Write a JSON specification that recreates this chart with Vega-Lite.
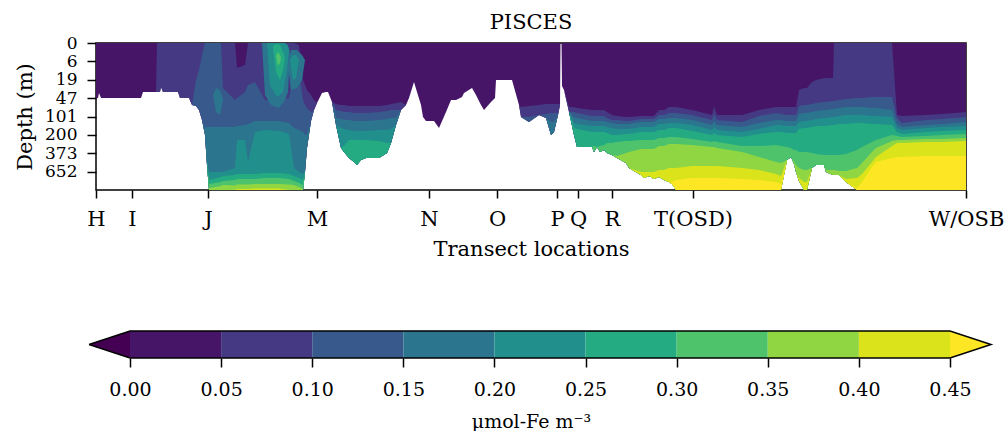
{
"$schema": "https://vega.github.io/schema/vega-lite/v6.json",
"padding": {"left": 13, "top": 11, "right": 0, "bottom": 0},
"spacing": 68,
"config": {
"font": "DejaVu Serif",
"view": {"stroke": null},
"axis": {"labelFont": "DejaVu Serif", "titleFont": "DejaVu Serif", "labelFontSize": 17, "titleFontSize": 17, "titleFontWeight": "normal", "labelColor": "black", "titleColor": "black", "tickColor": "black", "tickWidth": 1.5, "grid": false, "domain": false, "labelFlush": false, "labelOverlap": false, "labelBound": false}
},
"vconcat": [
{
"width": 870, "height": 147,
"title": {"text": "PISCES", "fontSize": 21, "font": "DejaVu Serif", "fontWeight": "normal", "color": "black", "offset": 1, "anchor": "middle"},
"view": {"stroke": "black", "strokeWidth": 1.5},
"encoding": {
"x": {"field": "x", "type": "quantitative", "scale": {"domain": [0, 870], "nice": false, "zero": false},
 "axis": {"values": [0, 36, 112, 221, 333, 401, 461, 482, 516, 597, 870], "labelExpr": "['H','I','J','M','N','O','P','Q','R','T(OSD)','W/OSB'][indexof([0,36,112,221,333,401,461,482,516,597,870], datum.value)]", "title": "Transect locations", "tickSize": 8, "labelPadding": 10, "titlePadding": 9, "labelFontSize": 21, "titleFontSize": 21}},
"y": {"field": "top", "type": "quantitative", "stack": null, "scale": {"domain": [0, 8], "reverse": true, "nice": false, "zero": false},
 "axis": {"values": [0, 1, 2, 3, 4, 5, 6, 7], "labelExpr": "['0','6','19','47','101','200','373','652'][datum.value]", "title": "Depth (m)", "tickSize": 9, "labelPadding": 10, "titlePadding": 9, "labelFontSize": 17, "titleFontSize": 21}},
"y2": {"field": "bot"},
"color": {"field": "band", "type": "nominal", "scale": {"domain": ["c00","c01","c02","c03","c04","c05","c06","c07","c08","c09","c10"], "range": ["#440154","#471567","#443982","#38598c","#2b758e","#21908d","#25ab82","#4ec36b","#90d643","#dbe31a","#fde725"]}, "legend": null}
},
"layer": [
{
"data": {"values": [
{"x":0,"bot":2.99,"c01":0,"c02":2.99,"c03":2.99,"c04":2.99,"c05":2.99,"c06":2.99,"c07":2.99,"c08":2.99,"c09":2.99,"c10":2.99},
{"x":2,"bot":2.99,"c01":0,"c02":2.99,"c03":2.99,"c04":2.99,"c05":2.99,"c06":2.99,"c07":2.99,"c08":2.99,"c09":2.99,"c10":2.99},
{"x":3,"bot":2.72,"c01":0,"c02":2.72,"c03":2.72,"c04":2.72,"c05":2.72,"c06":2.72,"c07":2.72,"c08":2.72,"c09":2.72,"c10":2.72},
{"x":5,"bot":2.99,"c01":0,"c02":2.99,"c03":2.99,"c04":2.99,"c05":2.99,"c06":2.99,"c07":2.99,"c08":2.99,"c09":2.99,"c10":2.99},
{"x":45,"bot":2.99,"c01":0,"c02":2.99,"c03":2.99,"c04":2.99,"c05":2.99,"c06":2.99,"c07":2.99,"c08":2.99,"c09":2.99,"c10":2.99},
{"x":47,"bot":2.67,"c01":0,"c02":2.67,"c03":2.67,"c04":2.67,"c05":2.67,"c06":2.67,"c07":2.67,"c08":2.67,"c09":2.67,"c10":2.67},
{"x":60,"bot":2.67,"c01":0,"c02":2.67,"c03":2.67,"c04":2.67,"c05":2.67,"c06":2.67,"c07":2.67,"c08":2.67,"c09":2.67,"c10":2.67},
{"x":61,"bot":2.67,"c01":0,"c02":0,"c03":2.67,"c04":2.67,"c05":2.67,"c06":2.67,"c07":2.67,"c08":2.67,"c09":2.67,"c10":2.67},
{"x":64,"bot":2.67,"c01":0,"c02":0,"c03":2.67,"c04":2.67,"c05":2.67,"c06":2.67,"c07":2.67,"c08":2.67,"c09":2.67,"c10":2.67},
{"x":65,"bot":2.39,"c01":0,"c02":0,"c03":2.39,"c04":2.39,"c05":2.39,"c06":2.39,"c07":2.39,"c08":2.39,"c09":2.39,"c10":2.39},
{"x":67,"bot":2.67,"c01":0,"c02":0,"c03":2.67,"c04":2.67,"c05":2.67,"c06":2.67,"c07":2.67,"c08":2.67,"c09":2.67,"c10":2.67},
{"x":82,"bot":2.67,"c01":0,"c02":0,"c03":2.67,"c04":2.67,"c05":2.67,"c06":2.67,"c07":2.67,"c08":2.67,"c09":2.67,"c10":2.67},
{"x":84,"bot":2.99,"c01":0,"c02":0,"c03":2.99,"c04":2.99,"c05":2.99,"c06":2.99,"c07":2.99,"c08":2.99,"c09":2.99,"c10":2.99},
{"x":93,"bot":2.99,"c01":0,"c02":0,"c03":2.99,"c04":2.99,"c05":2.99,"c06":2.99,"c07":2.99,"c08":2.99,"c09":2.99,"c10":2.99},
{"x":96,"bot":3.37,"c01":0,"c02":0,"c03":3.37,"c04":3.37,"c05":3.37,"c06":3.37,"c07":3.37,"c08":3.37,"c09":3.37,"c10":3.37},
{"x":100,"bot":3.43,"c01":0,"c02":0,"c03":2.01,"c04":3.43,"c05":3.43,"c06":3.43,"c07":3.43,"c08":3.43,"c09":3.43,"c10":3.43},
{"x":103,"bot":3.65,"c01":0,"c02":0,"c03":1.47,"c04":3.65,"c05":3.65,"c06":3.65,"c07":3.65,"c08":3.65,"c09":3.65,"c10":3.65},
{"x":106,"bot":4.19,"c01":0,"c02":0,"c03":0.65,"c04":4.19,"c05":4.19,"c06":4.19,"c07":4.19,"c08":4.19,"c09":4.19,"c10":4.19},
{"x":109,"bot":5.01,"c01":0,"c02":0,"c03":0,"c04":4.63,"c05":5.01,"c06":5.01,"c07":5.01,"c08":5.01,"c09":5.01,"c10":5.01},
{"x":111,"bot":6.64,"c01":0,"c02":0,"c03":0,"c04":4.57,"c05":6.37,"c06":6.64,"c07":6.64,"c08":6.64,"c09":6.64,"c10":6.64},
{"x":113,"bot":8,"c01":0,"c02":0,"c03":0,"c04":4.57,"c05":7.02,"c06":7.46,"c07":7.67,"c08":7.89,"c09":8,"c10":8},
{"x":125,"bot":8,"c01":0,"c02":0,"c03":0,"c04":4.57,"c05":7.02,"c06":7.29,"c07":7.56,"c08":7.78,"c09":8,"c10":8},
{"x":127,"bot":8,"c01":0,"c02":0,"c03":2.45,"c04":4.57,"c05":7.02,"c06":7.24,"c07":7.51,"c08":7.73,"c09":8,"c10":8},
{"x":139,"bot":8,"c01":0,"c02":0,"c03":3.10,"c04":4.57,"c05":6.80,"c06":7.18,"c07":7.46,"c08":7.75,"c09":8,"c10":8},
{"x":141,"bot":8,"c01":0,"c02":1.36,"c03":2.99,"c04":4.52,"c05":5.28,"c06":7.13,"c07":7.40,"c08":7.70,"c09":7.95,"c10":8},
{"x":149,"bot":8,"c01":0,"c02":1.20,"c03":2.67,"c04":4.46,"c05":5.28,"c06":7.13,"c07":7.40,"c08":7.70,"c09":7.95,"c10":8},
{"x":152,"bot":8,"c01":0,"c02":0,"c03":2.29,"c04":4.41,"c05":6.48,"c06":7.13,"c07":7.40,"c08":7.70,"c09":7.95,"c10":8},
{"x":159,"bot":8,"c01":0,"c02":0,"c03":2.12,"c04":4.24,"c05":4.84,"c06":7.13,"c07":7.40,"c08":7.67,"c09":7.92,"c10":8},
{"x":169,"bot":8,"c01":0,"c02":0,"c03":3.10,"c04":4.24,"c05":4.73,"c06":7.07,"c07":7.35,"c08":7.67,"c09":7.92,"c10":8},
{"x":183,"bot":8,"c01":0,"c02":0,"c03":3.10,"c04":4.24,"c05":4.79,"c06":7.07,"c07":7.35,"c08":7.67,"c09":7.92,"c10":8},
{"x":193,"bot":8,"c01":0,"c02":0,"c03":2.99,"c04":4.35,"c05":4.95,"c06":7.13,"c07":7.40,"c08":7.70,"c09":8,"c10":8},
{"x":198,"bot":8,"c01":0,"c02":0,"c03":1.74,"c04":4.63,"c05":6.80,"c06":7.24,"c07":7.51,"c08":7.73,"c09":8,"c10":8},
{"x":203,"bot":8,"c01":0,"c02":0.11,"c03":1.47,"c04":4.73,"c05":7.02,"c06":7.35,"c07":7.62,"c08":7.84,"c09":8,"c10":8},
{"x":207,"bot":8,"c01":0,"c02":2.01,"c03":3.10,"c04":4.84,"c05":7.13,"c06":7.46,"c07":7.73,"c08":7.95,"c09":8,"c10":8},
{"x":209,"bot":7.02,"c01":0,"c02":2.29,"c03":3.37,"c04":5.01,"c05":7.02,"c06":7.02,"c07":7.02,"c08":7.02,"c09":7.02,"c10":7.02},
{"x":211,"bot":5.71,"c01":0,"c02":2.56,"c03":3.54,"c04":5.01,"c05":5.71,"c06":5.71,"c07":5.71,"c08":5.71,"c09":5.71,"c10":5.71},
{"x":215,"bot":4.24,"c01":0,"c02":2.83,"c03":3.76,"c04":4.24,"c05":4.24,"c06":4.24,"c07":4.24,"c08":4.24,"c09":4.24,"c10":4.24},
{"x":218,"bot":3.65,"c01":0,"c02":3.10,"c03":3.65,"c04":3.65,"c05":3.65,"c06":3.65,"c07":3.65,"c08":3.65,"c09":3.65,"c10":3.65},
{"x":221,"bot":3.27,"c01":0,"c02":3.27,"c03":3.27,"c04":3.27,"c05":3.27,"c06":3.27,"c07":3.27,"c08":3.27,"c09":3.27,"c10":3.27},
{"x":226,"bot":2.72,"c01":0,"c02":2.72,"c03":2.72,"c04":2.72,"c05":2.72,"c06":2.72,"c07":2.72,"c08":2.72,"c09":2.72,"c10":2.72},
{"x":230,"bot":2.67,"c01":0,"c02":2.67,"c03":2.67,"c04":2.67,"c05":2.67,"c06":2.67,"c07":2.67,"c08":2.67,"c09":2.67,"c10":2.67},
{"x":232,"bot":2.67,"c01":0,"c02":2.67,"c03":2.67,"c04":2.67,"c05":2.67,"c06":2.67,"c07":2.67,"c08":2.67,"c09":2.67,"c10":2.67},
{"x":236,"bot":3.21,"c01":0,"c02":3.21,"c03":3.21,"c04":3.21,"c05":3.21,"c06":3.21,"c07":3.21,"c08":3.21,"c09":3.21,"c10":3.21},
{"x":240,"bot":4.46,"c01":0,"c02":3.32,"c03":3.65,"c04":4.08,"c05":4.46,"c06":4.46,"c07":4.46,"c08":4.46,"c09":4.46,"c10":4.46},
{"x":245,"bot":5.71,"c01":0,"c02":3.37,"c03":3.70,"c04":4.14,"c05":4.63,"c06":5.71,"c07":5.71,"c08":5.71,"c09":5.71,"c10":5.71},
{"x":248,"bot":5.93,"c01":0,"c02":3.37,"c03":3.76,"c04":4.19,"c05":4.68,"c06":5.61,"c07":5.93,"c08":5.93,"c09":5.93,"c10":5.93},
{"x":253,"bot":6.26,"c01":0,"c02":3.43,"c03":3.76,"c04":4.19,"c05":4.73,"c06":5.28,"c07":6.26,"c08":6.26,"c09":6.26,"c10":6.26},
{"x":258,"bot":6.48,"c01":0,"c02":3.43,"c03":3.81,"c04":4.24,"c05":4.79,"c06":5.28,"c07":6.48,"c08":6.48,"c09":6.48,"c10":6.48},
{"x":261,"bot":6.64,"c01":0,"c02":3.43,"c03":3.81,"c04":4.24,"c05":4.79,"c06":5.28,"c07":6.64,"c08":6.64,"c09":6.64,"c10":6.64},
{"x":265,"bot":6.37,"c01":0,"c02":3.43,"c03":3.81,"c04":4.24,"c05":4.79,"c06":5.28,"c07":6.37,"c08":6.37,"c09":6.37,"c10":6.37},
{"x":270,"bot":6.26,"c01":0,"c02":3.43,"c03":3.81,"c04":4.24,"c05":4.79,"c06":5.28,"c07":6.26,"c08":6.26,"c09":6.26,"c10":6.26},
{"x":283,"bot":6.26,"c01":0,"c02":3.43,"c03":3.76,"c04":4.19,"c05":4.73,"c06":5.33,"c07":6.26,"c08":6.26,"c09":6.26,"c10":6.26},
{"x":291,"bot":5.99,"c01":0,"c02":3.37,"c03":3.70,"c04":4.14,"c05":4.73,"c06":5.44,"c07":5.99,"c08":5.99,"c09":5.99,"c10":5.99},
{"x":295,"bot":5.44,"c01":0,"c02":3.32,"c03":3.65,"c04":4.08,"c05":4.68,"c06":5.44,"c07":5.44,"c08":5.44,"c09":5.44,"c10":5.44},
{"x":300,"bot":4.46,"c01":0,"c02":3.27,"c03":3.65,"c04":4.08,"c05":4.46,"c06":4.46,"c07":4.46,"c08":4.46,"c09":4.46,"c10":4.46},
{"x":305,"bot":3.65,"c01":0,"c02":3.21,"c03":3.65,"c04":3.65,"c05":3.65,"c06":3.65,"c07":3.65,"c08":3.65,"c09":3.65,"c10":3.65},
{"x":310,"bot":3.37,"c01":0,"c02":3.37,"c03":3.37,"c04":3.37,"c05":3.37,"c06":3.37,"c07":3.37,"c08":3.37,"c09":3.37,"c10":3.37},
{"x":313,"bot":2.99,"c01":0,"c02":2.99,"c03":2.99,"c04":2.99,"c05":2.99,"c06":2.99,"c07":2.99,"c08":2.99,"c09":2.99,"c10":2.99},
{"x":318,"bot":2.12,"c01":0,"c02":2.12,"c03":2.12,"c04":2.12,"c05":2.12,"c06":2.12,"c07":2.12,"c08":2.12,"c09":2.12,"c10":2.12},
{"x":321,"bot":2.67,"c01":0,"c02":2.67,"c03":2.67,"c04":2.67,"c05":2.67,"c06":2.67,"c07":2.67,"c08":2.67,"c09":2.67,"c10":2.67},
{"x":325,"bot":3.37,"c01":0,"c02":3.37,"c03":3.37,"c04":3.37,"c05":3.37,"c06":3.37,"c07":3.37,"c08":3.37,"c09":3.37,"c10":3.37},
{"x":327,"bot":4.03,"c01":0,"c02":4.03,"c03":4.03,"c04":4.03,"c05":4.03,"c06":4.03,"c07":4.03,"c08":4.03,"c09":4.03,"c10":4.03},
{"x":330,"bot":4.24,"c01":0,"c02":4.24,"c03":4.24,"c04":4.24,"c05":4.24,"c06":4.24,"c07":4.24,"c08":4.24,"c09":4.24,"c10":4.24},
{"x":338,"bot":4.24,"c01":0,"c02":4.24,"c03":4.24,"c04":4.24,"c05":4.24,"c06":4.24,"c07":4.24,"c08":4.24,"c09":4.24,"c10":4.24},
{"x":343,"bot":4.63,"c01":0,"c02":4.63,"c03":4.63,"c04":4.63,"c05":4.63,"c06":4.63,"c07":4.63,"c08":4.63,"c09":4.63,"c10":4.63},
{"x":350,"bot":3.76,"c01":0,"c02":3.76,"c03":3.76,"c04":3.76,"c05":3.76,"c06":3.76,"c07":3.76,"c08":3.76,"c09":3.76,"c10":3.76},
{"x":355,"bot":3.10,"c01":0,"c02":3.10,"c03":3.10,"c04":3.10,"c05":3.10,"c06":3.10,"c07":3.10,"c08":3.10,"c09":3.10,"c10":3.10},
{"x":360,"bot":3.10,"c01":0,"c02":3.10,"c03":3.10,"c04":3.10,"c05":3.10,"c06":3.10,"c07":3.10,"c08":3.10,"c09":3.10,"c10":3.10},
{"x":366,"bot":2.94,"c01":0,"c02":2.94,"c03":2.94,"c04":2.94,"c05":2.94,"c06":2.94,"c07":2.94,"c08":2.94,"c09":2.94,"c10":2.94},
{"x":368,"bot":2.72,"c01":0,"c02":2.72,"c03":2.72,"c04":2.72,"c05":2.72,"c06":2.72,"c07":2.72,"c08":2.72,"c09":2.72,"c10":2.72},
{"x":376,"bot":2.45,"c01":0,"c02":2.45,"c03":2.45,"c04":2.45,"c05":2.45,"c06":2.45,"c07":2.45,"c08":2.45,"c09":2.45,"c10":2.45},
{"x":380,"bot":2.83,"c01":0,"c02":2.83,"c03":2.83,"c04":2.83,"c05":2.83,"c06":2.83,"c07":2.83,"c08":2.83,"c09":2.83,"c10":2.83},
{"x":385,"bot":3.37,"c01":0,"c02":3.37,"c03":3.37,"c04":3.37,"c05":3.37,"c06":3.37,"c07":3.37,"c08":3.37,"c09":3.37,"c10":3.37},
{"x":388,"bot":3.65,"c01":0,"c02":3.65,"c03":3.65,"c04":3.65,"c05":3.65,"c06":3.65,"c07":3.65,"c08":3.65,"c09":3.65,"c10":3.65},
{"x":395,"bot":3.21,"c01":0,"c02":3.21,"c03":3.21,"c04":3.21,"c05":3.21,"c06":3.21,"c07":3.21,"c08":3.21,"c09":3.21,"c10":3.21},
{"x":399,"bot":2.99,"c01":0,"c02":2.99,"c03":2.99,"c04":2.99,"c05":2.99,"c06":2.99,"c07":2.99,"c08":2.99,"c09":2.99,"c10":2.99},
{"x":400,"bot":2.01,"c01":0,"c02":2.01,"c03":2.01,"c04":2.01,"c05":2.01,"c06":2.01,"c07":2.01,"c08":2.01,"c09":2.01,"c10":2.01},
{"x":416,"bot":2.01,"c01":0,"c02":2.01,"c03":2.01,"c04":2.01,"c05":2.01,"c06":2.01,"c07":2.01,"c08":2.01,"c09":2.01,"c10":2.01},
{"x":423,"bot":3.37,"c01":0,"c02":3.37,"c03":3.37,"c04":3.37,"c05":3.37,"c06":3.37,"c07":3.37,"c08":3.37,"c09":3.37,"c10":3.37},
{"x":425,"bot":4.03,"c01":0,"c02":3.48,"c03":4.03,"c04":4.03,"c05":4.03,"c06":4.03,"c07":4.03,"c08":4.03,"c09":4.03,"c10":4.03},
{"x":433,"bot":4.30,"c01":0,"c02":3.43,"c03":4.03,"c04":4.30,"c05":4.30,"c06":4.30,"c07":4.30,"c08":4.30,"c09":4.30,"c10":4.30},
{"x":443,"bot":3.92,"c01":0,"c02":3.37,"c03":3.92,"c04":3.92,"c05":3.92,"c06":3.92,"c07":3.92,"c08":3.92,"c09":3.92,"c10":3.92},
{"x":450,"bot":4.08,"c01":0,"c02":3.32,"c03":3.86,"c04":4.08,"c05":4.08,"c06":4.08,"c07":4.08,"c08":4.08,"c09":4.08,"c10":4.08},
{"x":455,"bot":5.01,"c01":0,"c02":3.32,"c03":3.81,"c04":4.30,"c05":5.01,"c06":5.01,"c07":5.01,"c08":5.01,"c09":5.01,"c10":5.01},
{"x":458,"bot":4.84,"c01":0,"c02":3.32,"c03":3.81,"c04":4.30,"c05":4.84,"c06":4.84,"c07":4.84,"c08":4.84,"c09":4.84,"c10":4.84},
{"x":462,"bot":3.92,"c01":0,"c02":3.32,"c03":3.81,"c04":3.92,"c05":3.92,"c06":3.92,"c07":3.92,"c08":3.92,"c09":3.92,"c10":3.92},
{"x":464,"bot":3.37,"c01":0,"c02":3.32,"c03":3.37,"c04":3.37,"c05":3.37,"c06":3.37,"c07":3.37,"c08":3.37,"c09":3.37,"c10":3.37},
{"x":464.5,"bot":0,"c01":0,"c02":0,"c03":0,"c04":0,"c05":0,"c06":0,"c07":0,"c08":0,"c09":0,"c10":0},
{"x":465.5,"bot":0,"c01":0,"c02":0,"c03":0,"c04":0,"c05":0,"c06":0,"c07":0,"c08":0,"c09":0,"c10":0},
{"x":466,"bot":2.34,"c01":0,"c02":2.34,"c03":2.34,"c04":2.34,"c05":2.34,"c06":2.34,"c07":2.34,"c08":2.34,"c09":2.34,"c10":2.34},
{"x":468,"bot":2.56,"c01":0,"c02":2.56,"c03":2.56,"c04":2.56,"c05":2.56,"c06":2.56,"c07":2.56,"c08":2.56,"c09":2.56,"c10":2.56},
{"x":473,"bot":3.76,"c01":0,"c02":3.48,"c03":3.76,"c04":3.76,"c05":3.76,"c06":3.76,"c07":3.76,"c08":3.76,"c09":3.76,"c10":3.76},
{"x":478,"bot":5.01,"c01":0,"c02":3.48,"c03":3.76,"c04":4.03,"c05":4.35,"c06":4.63,"c07":5.01,"c08":5.01,"c09":5.01,"c10":5.01},
{"x":481,"bot":5.66,"c01":0,"c02":3.54,"c03":3.81,"c04":4.08,"c05":4.41,"c06":4.68,"c07":5.66,"c08":5.66,"c09":5.66,"c10":5.66},
{"x":496,"bot":5.66,"c01":0,"c02":3.65,"c03":3.97,"c04":4.24,"c05":4.52,"c06":4.84,"c07":5.66,"c08":5.66,"c09":5.66,"c10":5.66},
{"x":498,"bot":5.93,"c01":0,"c02":3.65,"c03":3.97,"c04":4.24,"c05":4.52,"c06":4.84,"c07":5.61,"c08":5.93,"c09":5.93,"c10":5.93},
{"x":501,"bot":5.66,"c01":0,"c02":3.65,"c03":3.97,"c04":4.24,"c05":4.52,"c06":4.84,"c07":5.66,"c08":5.66,"c09":5.66,"c10":5.66},
{"x":504,"bot":5.93,"c01":0,"c02":3.65,"c03":3.97,"c04":4.24,"c05":4.52,"c06":4.84,"c07":5.61,"c08":5.93,"c09":5.93,"c10":5.93},
{"x":508,"bot":5.82,"c01":0,"c02":3.65,"c03":3.97,"c04":4.24,"c05":4.52,"c06":4.84,"c07":5.55,"c08":5.82,"c09":5.82,"c10":5.82},
{"x":511,"bot":5.99,"c01":0,"c02":3.76,"c03":4.08,"c04":4.30,"c05":4.57,"c06":4.90,"c07":5.44,"c08":5.99,"c09":5.99,"c10":5.99},
{"x":516,"bot":6.10,"c01":0,"c02":3.92,"c03":4.19,"c04":4.35,"c05":4.63,"c06":5.01,"c07":5.44,"c08":6.10,"c09":6.10,"c10":6.10},
{"x":521,"bot":6.26,"c01":0,"c02":3.97,"c03":4.19,"c04":4.41,"c05":4.68,"c06":5.01,"c07":5.39,"c08":6.15,"c09":6.26,"c10":6.26},
{"x":530,"bot":6.53,"c01":0,"c02":4.03,"c03":4.24,"c04":4.41,"c05":4.68,"c06":4.95,"c07":5.33,"c08":5.99,"c09":6.53,"c10":6.53},
{"x":533,"bot":6.80,"c01":0,"c02":4.03,"c03":4.24,"c04":4.41,"c05":4.68,"c06":4.95,"c07":5.33,"c08":5.93,"c09":6.80,"c10":6.80},
{"x":545,"bot":7.18,"c01":0,"c02":3.97,"c03":4.14,"c04":4.30,"c05":4.57,"c06":4.84,"c07":5.28,"c08":5.77,"c09":7.02,"c10":7.18},
{"x":548,"bot":7.35,"c01":0,"c02":3.97,"c03":4.14,"c04":4.30,"c05":4.57,"c06":4.84,"c07":5.28,"c08":5.77,"c09":7.02,"c10":7.35},
{"x":553,"bot":7.24,"c01":0,"c02":3.97,"c03":4.14,"c04":4.30,"c05":4.57,"c06":4.84,"c07":5.28,"c08":5.77,"c09":7.02,"c10":7.24},
{"x":558,"bot":7.40,"c01":0,"c02":3.97,"c03":4.14,"c04":4.30,"c05":4.57,"c06":4.84,"c07":5.28,"c08":5.77,"c09":7.02,"c10":7.40},
{"x":563,"bot":7.29,"c01":0,"c02":3.65,"c03":3.92,"c04":4.14,"c05":4.41,"c06":4.73,"c07":5.17,"c08":5.61,"c09":6.91,"c10":7.29},
{"x":568,"bot":7.46,"c01":0,"c02":3.65,"c03":3.92,"c04":4.14,"c05":4.41,"c06":4.73,"c07":5.17,"c08":5.61,"c09":6.91,"c10":7.46},
{"x":573,"bot":7.56,"c01":0,"c02":3.48,"c03":3.81,"c04":4.08,"c05":4.35,"c06":4.63,"c07":5.12,"c08":5.50,"c09":6.80,"c10":7.56},
{"x":576,"bot":7.67,"c01":0,"c02":3.48,"c03":3.81,"c04":4.08,"c05":4.35,"c06":4.63,"c07":5.12,"c08":5.50,"c09":6.80,"c10":7.56},
{"x":580,"bot":8,"c01":0,"c02":3.48,"c03":3.81,"c04":4.08,"c05":4.35,"c06":4.63,"c07":5.12,"c08":5.50,"c09":6.80,"c10":7.46},
{"x":596,"bot":8,"c01":0,"c02":3.65,"c03":3.92,"c04":4.19,"c05":4.46,"c06":4.79,"c07":5.22,"c08":5.55,"c09":6.69,"c10":7.35},
{"x":616,"bot":8,"c01":0,"c02":3.92,"c03":4.19,"c04":4.46,"c05":4.73,"c06":5.01,"c07":5.39,"c08":5.66,"c09":6.69,"c10":7.35},
{"x":618,"bot":8,"c01":0,"c02":3.43,"c03":3.86,"c04":4.24,"c05":4.57,"c06":4.90,"c07":5.33,"c08":5.66,"c09":6.69,"c10":7.35},
{"x":621,"bot":8,"c01":0,"c02":3.92,"c03":4.19,"c04":4.46,"c05":4.73,"c06":5.01,"c07":5.39,"c08":5.71,"c09":6.69,"c10":7.35},
{"x":646,"bot":8,"c01":0,"c02":3.92,"c03":4.30,"c04":4.57,"c05":4.84,"c06":5.12,"c07":5.61,"c08":5.93,"c09":6.80,"c10":7.40},
{"x":663,"bot":8,"c01":0,"c02":3.65,"c03":3.97,"c04":4.35,"c05":4.68,"c06":4.95,"c07":5.61,"c08":6.20,"c09":6.91,"c10":7.46},
{"x":680,"bot":8,"c01":0,"c02":3.48,"c03":3.81,"c04":4.19,"c05":4.46,"c06":4.84,"c07":5.55,"c08":6.48,"c09":7.13,"c10":7.56},
{"x":685,"bot":8,"c01":0,"c02":3.48,"c03":3.86,"c04":4.19,"c05":4.46,"c06":4.84,"c07":5.61,"c08":6.53,"c09":7.24,"c10":7.67},
{"x":691,"bot":6.37,"c01":0,"c02":3.48,"c03":3.92,"c04":4.24,"c05":4.52,"c06":4.90,"c07":5.66,"c08":6.37,"c09":6.37,"c10":6.37},
{"x":695,"bot":6.20,"c01":0,"c02":3.48,"c03":3.92,"c04":4.24,"c05":4.52,"c06":4.90,"c07":5.71,"c08":6.20,"c09":6.20,"c10":6.20},
{"x":698,"bot":6.59,"c01":0,"c02":3.48,"c03":3.92,"c04":4.24,"c05":4.52,"c06":4.90,"c07":5.82,"c08":6.48,"c09":6.59,"c10":6.59},
{"x":700,"bot":7.02,"c01":0,"c02":3.48,"c03":3.92,"c04":4.24,"c05":4.52,"c06":4.90,"c07":5.82,"c08":6.64,"c09":7.02,"c10":7.02},
{"x":703,"bot":7.51,"c01":0,"c02":2.56,"c03":3.43,"c04":3.86,"c05":4.30,"c06":4.68,"c07":5.93,"c08":6.80,"c09":7.35,"c10":7.51},
{"x":708,"bot":8,"c01":0,"c02":2.45,"c03":3.37,"c04":3.81,"c05":4.24,"c06":4.63,"c07":5.93,"c08":6.91,"c09":7.56,"c10":8},
{"x":711,"bot":8,"c01":0,"c02":2.45,"c03":3.37,"c04":3.81,"c05":4.24,"c06":4.63,"c07":5.93,"c08":6.91,"c09":7.56,"c10":8},
{"x":716,"bot":6.80,"c01":0,"c02":2.12,"c03":3.32,"c04":3.76,"c05":4.19,"c06":4.57,"c07":5.99,"c08":6.80,"c09":6.80,"c10":6.80},
{"x":720,"bot":6.64,"c01":0,"c02":2.01,"c03":3.27,"c04":3.70,"c05":4.14,"c06":4.52,"c07":6.04,"c08":6.64,"c09":6.64,"c10":6.64},
{"x":728,"bot":6.64,"c01":0,"c02":1.90,"c03":3.21,"c04":3.65,"c05":4.08,"c06":4.52,"c07":6.10,"c08":6.64,"c09":6.64,"c10":6.64},
{"x":730,"bot":7.02,"c01":0,"c02":1.90,"c03":3.21,"c04":3.65,"c05":4.08,"c06":4.52,"c07":6.10,"c08":6.91,"c09":7.02,"c10":7.02},
{"x":737,"bot":7.18,"c01":0,"c02":1.90,"c03":3.16,"c04":3.59,"c05":4.03,"c06":4.46,"c07":6.10,"c08":6.91,"c09":7.18,"c10":7.18},
{"x":738,"bot":7.18,"c01":0,"c02":0,"c03":3.16,"c04":3.59,"c05":4.03,"c06":4.46,"c07":6.10,"c08":6.91,"c09":7.18,"c10":7.18},
{"x":743,"bot":7.18,"c01":0,"c02":0,"c03":3.10,"c04":3.54,"c05":3.97,"c06":4.41,"c07":6.10,"c08":6.97,"c09":7.18,"c10":7.18},
{"x":750,"bot":7.56,"c01":0,"c02":0,"c03":3.05,"c04":3.48,"c05":3.92,"c06":4.41,"c07":6.04,"c08":6.97,"c09":7.40,"c10":7.56},
{"x":761,"bot":8,"c01":0,"c02":0,"c03":2.99,"c04":3.48,"c05":3.92,"c06":4.35,"c07":5.82,"c08":6.80,"c09":7.35,"c10":7.89},
{"x":766,"bot":8,"c01":0,"c02":0,"c03":2.99,"c04":3.48,"c05":3.92,"c06":4.35,"c07":5.66,"c08":6.53,"c09":7.13,"c10":7.56},
{"x":776,"bot":8,"c01":0,"c02":0,"c03":2.94,"c04":3.54,"c05":3.97,"c06":4.41,"c07":5.39,"c08":5.93,"c09":6.48,"c10":6.75},
{"x":780,"bot":8,"c01":0,"c02":0,"c03":2.94,"c04":3.54,"c05":3.97,"c06":4.41,"c07":5.28,"c08":5.71,"c09":6.20,"c10":6.48},
{"x":796,"bot":8,"c01":0,"c02":0,"c03":2.94,"c04":3.65,"c05":4.03,"c06":4.46,"c07":5.01,"c08":5.33,"c09":5.61,"c10":6.26},
{"x":801,"bot":8,"c01":0,"c02":3.92,"c03":4.08,"c04":4.41,"c05":4.63,"c06":4.84,"c07":5.06,"c08":5.28,"c09":5.44,"c10":6.20},
{"x":806,"bot":8,"c01":0,"c02":3.97,"c03":4.35,"c04":4.57,"c05":4.73,"c06":4.95,"c07":5.12,"c08":5.28,"c09":5.44,"c10":6.20},
{"x":830,"bot":8,"c01":0,"c02":3.92,"c03":4.19,"c04":4.46,"c05":4.63,"c06":4.84,"c07":5.06,"c08":5.22,"c09":5.39,"c10":6.15},
{"x":846,"bot":8,"c01":0,"c02":3.86,"c03":4.14,"c04":4.41,"c05":4.57,"c06":4.79,"c07":5.01,"c08":5.22,"c09":5.39,"c10":6.15},
{"x":870,"bot":8,"c01":0,"c02":3.76,"c03":4.03,"c04":4.30,"c05":4.52,"c06":4.73,"c07":4.95,"c08":5.17,"c09":5.33,"c10":6.15}
]},
"transform": [{"fold": ["c01","c02","c03","c04","c05","c06","c07","c08","c09","c10"], "as": ["band", "top"]}],
"mark": {"type": "area", "interpolate": "linear"}
},
{
"data": {"values": [
{"p":"A","band":"c04","x":166,"top":0,"bot":0},{"p":"A","band":"c04","x":169,"top":0,"bot":2.83},{"p":"A","band":"c04","x":175,"top":0,"bot":3.37},{"p":"A","band":"c04","x":183,"top":0,"bot":3.54},{"p":"A","band":"c04","x":189,"top":0,"bot":3.10},{"p":"A","band":"c04","x":192,"top":0.11,"bot":2.67},{"p":"A","band":"c04","x":194,"top":0.5,"bot":0.5},
{"p":"E","band":"c04","x":192,"top":1.20,"bot":1.20},{"p":"E","band":"c04","x":195,"top":0.38,"bot":2.56},{"p":"E","band":"c04","x":201,"top":0.38,"bot":2.45},{"p":"E","band":"c04","x":206,"top":0.65,"bot":2.01},{"p":"E","band":"c04","x":209,"top":0.93,"bot":0.93},
{"p":"B","band":"c05","x":171,"top":0,"bot":0},{"p":"B","band":"c05","x":174,"top":0,"bot":2.29},{"p":"B","band":"c05","x":181,"top":0,"bot":2.94},{"p":"B","band":"c05","x":187,"top":0,"bot":2.67},{"p":"B","band":"c05","x":191,"top":0.11,"bot":1.47},{"p":"B","band":"c05","x":193,"top":0.38,"bot":0.38},
{"p":"F","band":"c05","x":194,"top":0.93,"bot":0.93},{"p":"F","band":"c05","x":197,"top":0.65,"bot":2.01},{"p":"F","band":"c05","x":200,"top":0.65,"bot":1.90},{"p":"F","band":"c05","x":203,"top":0.93,"bot":0.93},
{"p":"C","band":"c06","x":177,"top":0.16,"bot":0.16},{"p":"C","band":"c06","x":180,"top":0.05,"bot":1.58},{"p":"C","band":"c06","x":184,"top":0.11,"bot":2.01},{"p":"C","band":"c06","x":187,"top":0.49,"bot":1.47},{"p":"C","band":"c06","x":189,"top":0.82,"bot":0.82},
{"p":"D","band":"c07","x":180,"top":0.71,"bot":0.71},{"p":"D","band":"c07","x":182,"top":0.49,"bot":1.25},{"p":"D","band":"c07","x":184,"top":0.65,"bot":1.09},{"p":"D","band":"c07","x":185,"top":0.82,"bot":0.82},
{"p":"G","band":"c04","x":117,"top":2.83,"bot":2.83},{"p":"G","band":"c04","x":120,"top":2.45,"bot":3.76},{"p":"G","band":"c04","x":124,"top":2.56,"bot":3.92},{"p":"G","band":"c04","x":127,"top":3.10,"bot":3.10}
]},
"mark": {"type": "area", "interpolate": "linear"},
"encoding": {"detail": {"field": "p"}}
}
]
},
{
"width": 870, "height": 27,
"encoding": {
"x": {"field": "x", "type": "quantitative", "scale": {"domain": [-0.01866, 0.45878], "nice": false, "zero": false},
 "axis": {"values": [0, 0.05, 0.1, 0.15, 0.2, 0.25, 0.3, 0.35, 0.4, 0.45], "format": ".2f", "title": "μmol-Fe m⁻³", "tickSize": 9, "labelPadding": 13, "titlePadding": 13, "labelFontSize": 19, "titleFontSize": 19}}
},
"layer": [
{
"data": {"values": [
{"band":"c01","x":0,"x2":0.05},{"band":"c02","x":0.05,"x2":0.1},{"band":"c03","x":0.1,"x2":0.15},{"band":"c04","x":0.15,"x2":0.2},{"band":"c05","x":0.2,"x2":0.25},{"band":"c06","x":0.25,"x2":0.3},{"band":"c07","x":0.3,"x2":0.35},{"band":"c08","x":0.35,"x2":0.4},{"band":"c09","x":0.4,"x2":0.45}
]},
"mark": {"type": "rect"},
"encoding": {
"x2": {"field": "x2"},
"y": {"datum": 0, "type": "quantitative", "scale": {"domain": [0, 1], "nice": false, "zero": false}, "axis": null},
"y2": {"datum": 1},
"color": {"field": "band", "type": "nominal", "scale": {"domain": ["c00","c01","c02","c03","c04","c05","c06","c07","c08","c09","c10"], "range": ["#440154","#471567","#443982","#38598c","#2b758e","#21908d","#25ab82","#4ec36b","#90d643","#dbe31a","#fde725"]}, "legend": null}
}
},
{
"data": {"values": [
{"band":"c00","x":-0.0225,"ylo":0.5,"yhi":0.5},{"band":"c00","x":0,"ylo":0,"yhi":1},
{"band":"c10","x":0.45,"ylo":0,"yhi":1},{"band":"c10","x":0.4725,"ylo":0.5,"yhi":0.5}
]},
"mark": {"type": "area", "interpolate": "linear"},
"encoding": {
"y": {"field": "ylo", "type": "quantitative", "stack": null, "scale": {"domain": [0, 1], "nice": false, "zero": false}, "axis": null},
"y2": {"field": "yhi"},
"color": {"field": "band", "type": "nominal", "legend": null}
}
},
{
"data": {"values": [
{"o":1,"x":-0.0225,"y":0.5},{"o":2,"x":0,"y":1},{"o":3,"x":0.45,"y":1},{"o":4,"x":0.4725,"y":0.5},{"o":5,"x":0.45,"y":0},{"o":6,"x":0,"y":0},{"o":7,"x":-0.0225,"y":0.5}
]},
"mark": {"type": "line", "color": "black", "strokeWidth": 1.5},
"encoding": {
"y": {"field": "y", "type": "quantitative", "scale": {"domain": [0, 1], "nice": false, "zero": false}, "axis": null},
"order": {"field": "o"}
}
}
]
}
]
}
